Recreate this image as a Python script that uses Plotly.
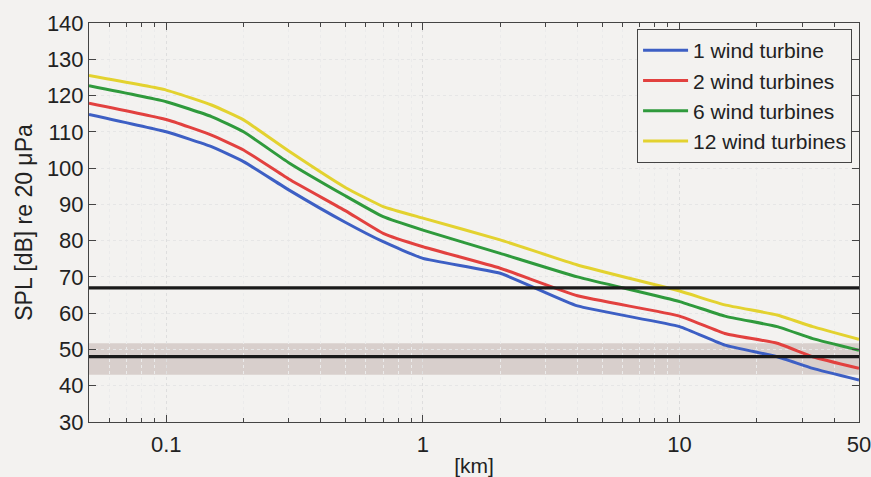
import plotly.graph_objects as go

distance_km = [0.05, 0.1, 0.15, 0.2, 0.3, 0.5, 0.7, 1, 2, 4, 10, 15, 24, 33, 50]
spl_1 = [114.8, 110, 105.9, 101.8, 94, 85, 79.7, 75.1, 71, 62, 56.3, 51.2, 48, 44.8, 41.6]
spl_2 = [117.9, 113.4, 109.1, 105, 97, 88.2, 82, 78.3, 72.4, 64.8, 59.2, 54.4, 51.7, 48, 44.8]
spl_6 = [122.7, 118.3, 114.2, 110, 101.5, 92.3, 86.6, 82.9, 76.5, 70, 63.2, 59.2, 56.3, 53, 49.8]
spl_12 = [125.5, 121.5, 117.4, 113.3, 104.7, 94.6, 89.4, 86.2, 80.2, 73.3, 66.1, 62.3, 59.5, 56.3, 52.8]

series_names = ["1 wind turbine", "2 wind turbines", "6 wind turbines", "12 wind turbines"]
series_colors = ["#3d5fc4", "#e2413f", "#2f9a3c", "#e3d22f"]

ref_levels = [67, 48]
band_low, band_high = 43, 51.7

x_ticks = [0.1, 1, 10, 50]
x_ticktext = ["0.1", "1", "10", "50"]
x_minor = [0.06, 0.07, 0.08, 0.09, 0.2, 0.3, 0.4, 0.5, 0.6, 0.7, 0.8, 0.9,
           2, 3, 4, 5, 6, 7, 8, 9, 20, 30, 40]

font_family = "Liberation Sans, Arial, sans-serif"
bg = "#f3f2f0"

fig = go.Figure()

for name, ys, col in zip(series_names, [spl_1, spl_2, spl_6, spl_12], series_colors):
    fig.add_trace(go.Scatter(x=distance_km, y=ys, mode="lines", name=name,
                             line=dict(color=col, width=3, shape="spline", smoothing=0.4)))

fig.add_shape(type="rect", xref="paper", x0=0, x1=1, yref="y", y0=band_low, y1=band_high,
              fillcolor="#d8cfcc", line=dict(width=0), layer="below")
for lvl in ref_levels:
    fig.add_shape(type="line", xref="paper", x0=0, x1=1, yref="y", y0=lvl, y1=lvl,
                  line=dict(color="#1a1a1a", width=3.2), layer="above")

fig.update_layout(
    width=871, height=477,
    margin=dict(l=89, r=12, t=23, b=55),
    paper_bgcolor=bg, plot_bgcolor=bg,
    font=dict(family=font_family, size=22, color="#222222"),
    showlegend=True,
    legend=dict(x=0.991, y=0.985, xanchor="right", yanchor="top",
                bgcolor=bg, bordercolor="#444444", borderwidth=1,
                font=dict(size=21), tracegroupgap=0, itemwidth=45),
    xaxis=dict(type="log", range=[-1.30103, 1.69897], automargin=False,
               tickmode="array", tickvals=x_ticks, ticktext=x_ticktext,
               ticks="inside", ticklen=7, tickcolor="#444444",
               ticklabelstandoff=3, ticklabeloverflow="allow",
               minor=dict(tickmode="array", tickvals=x_minor, ticks="inside", ticklen=4,
                          tickcolor="#444444", showgrid=True, gridcolor="#ebebeb",
                          griddash="dot"),
               showline=True, linecolor="#444444", linewidth=1, mirror="ticks",
               showgrid=True, gridcolor="#dedede", griddash="dot",
               zeroline=False,
               title=dict(text="[km]", font=dict(size=21), standoff=4)),
    yaxis=dict(range=[30, 140], tickmode="linear", tick0=30, dtick=10, automargin=False,
               ticks="inside", ticklen=7, tickcolor="#444444",
               showline=True, linecolor="#444444", linewidth=1, mirror="ticks",
               showgrid=True, gridcolor="#e6e6e6", griddash="dot",
               zeroline=False,
               title=dict(text="SPL [dB] re 20 μPa", font=dict(size=23), standoff=7)),
)

fig.write_html("out.html", config={"displayModeBar": False},
               post_script="document.body.style.margin='0';document.body.style.background='%s';" % bg)
